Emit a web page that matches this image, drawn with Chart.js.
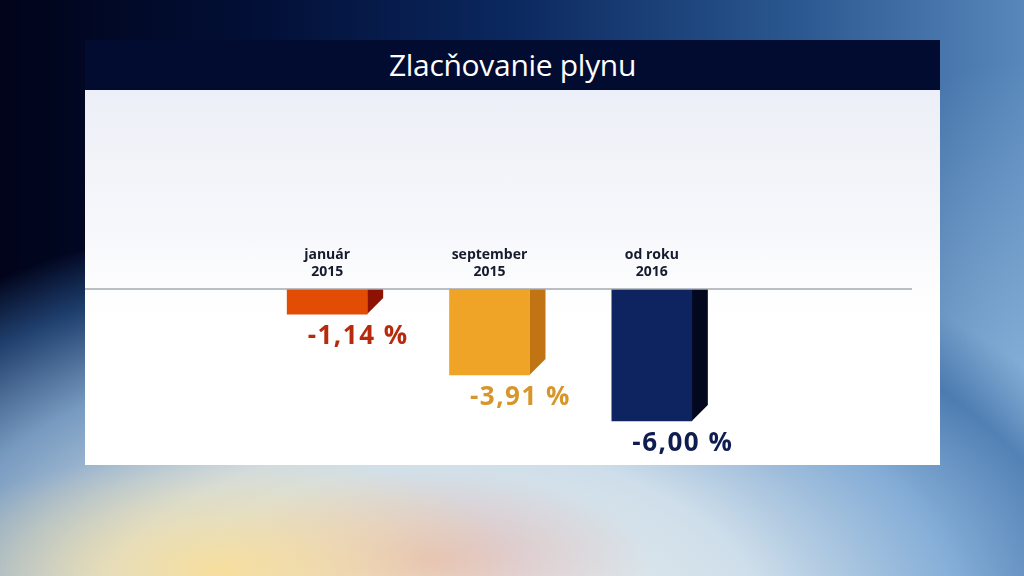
<!DOCTYPE html>
<html>
<head>
<meta charset="utf-8">
<script src="https://cdn.jsdelivr.net/npm/chart.js@4"></script>
<style>
    html, body { margin: 0; padding: 0; }
    body {
        width: 1024px;
        height: 576px;
        overflow: hidden;
        position: relative;
        background:
            radial-gradient(ellipse 300px 120px at 220px 570px, rgba(250, 222, 150, 0.9), rgba(250, 222, 150, 0) 100%),
            radial-gradient(ellipse 220px 90px at 430px 560px, rgba(220, 150, 150, 0.55), rgba(220, 150, 150, 0) 100%),
            radial-gradient(ellipse 760px 440px at 430px 640px, rgba(245, 245, 235, 1) 0%, rgba(215, 230, 240, 0.95) 45%, rgba(140, 180, 220, 0.85) 70%, rgba(50, 100, 160, 0.6) 88%, rgba(30, 70, 130, 0) 100%),
            radial-gradient(ellipse 260px 360px at 1024px 420px, rgba(150, 190, 225, 0.8), rgba(150, 190, 225, 0) 100%),
            linear-gradient(to right, #01041a 0%, #020f36 25%, #0b285f 50%, #2b5890 78%, #5887bb 100%);
        font-family: 'Open Sans', sans-serif;
    }
    #title_bar {
        position: absolute;
        left: 85px;
        top: 40px;
        width: 855px;
        height: 50px;
        background: #020c30;
        color: #ffffff;
        font-family: 'Open Sans', sans-serif;
        font-size: 30px;
        line-height: 50px;
        text-align: center;
        letter-spacing: -0.3px;
    }
    #panel {
        position: absolute;
        left: 85px;
        top: 90px;
        width: 855px;
        height: 375px;
        background: linear-gradient(to bottom, #eceff7 0%, #f6f7fb 35%, #ffffff 60%, #ffffff 100%);
    }
    #chart_wrap {
        position: absolute;
        left: 0;
        top: 0;
        width: 855px;
        height: 375px;
    }
</style>
</head>
<body>
<div id="title_bar">Zlacňovanie plynu</div>
<div id="panel">
    <div id="chart_wrap"><canvas id="gas_chart"></canvas></div>
</div>
<script>
const gas_categories = [['január', '2015'], ['september', '2015'], ['od roku', '2016']];
const gas_values = [-1.14, -3.91, -6.00];
const gas_value_labels = ['-1,14 %', '-3,91 %', '-6,00 %'];
const gas_front_colors = ['#e24c04', '#f0a427', '#0d2461'];
const gas_side_colors = ['#8e1204', '#c07414', '#03081f'];
const gas_label_colors = ['#b72a0c', '#d8962a', '#0e1c50'];

const gas_depth = 16;

// draws the side faces, the zero line and the texts round the bars
const gas_decor_plugin = {
    id: 'gas_decor',
    beforeDatasetsDraw: function (chart) {
        const ctx = chart.ctx;
        const y_scale = chart.scales.y;
        const zero_y = y_scale.getPixelForValue(0);
        const meta = chart.getDatasetMeta(0);

        ctx.save();
        meta.data.forEach(function (bar, idx) {
            const right = bar.x + bar.width / 2;
            const bottom = bar.y;
            ctx.fillStyle = gas_side_colors[idx];
            ctx.beginPath();
            ctx.moveTo(right, zero_y);
            ctx.lineTo(right + gas_depth, zero_y);
            ctx.lineTo(right + gas_depth, Math.max(zero_y, bottom - gas_depth));
            ctx.lineTo(right, bottom);
            ctx.closePath();
            ctx.fill();
        });
        ctx.restore();
    },
    afterDatasetsDraw: function (chart) {
        const ctx = chart.ctx;
        const y_scale = chart.scales.y;
        const zero_y = y_scale.getPixelForValue(0);
        const meta = chart.getDatasetMeta(0);

        ctx.save();
        ctx.strokeStyle = '#a4a8ae';
        ctx.lineWidth = 1.5;
        ctx.beginPath();
        ctx.moveTo(0, zero_y);
        ctx.lineTo(827, zero_y);
        ctx.stroke();

        ctx.textAlign = 'center';
        ctx.textBaseline = 'middle';
        meta.data.forEach(function (bar, idx) {
            const lines = gas_categories[idx];
            ctx.font = 'bold 14px "Open Sans", sans-serif';
            ctx.fillStyle = '#161a2c';
            ctx.fillText(lines[0], bar.x, zero_y - 34);
            ctx.fillText(lines[1], bar.x, zero_y - 17);

            ctx.font = 'bold 26px "Open Sans", sans-serif';
            ctx.letterSpacing = '1.5px';
            ctx.fillStyle = gas_label_colors[idx];
            ctx.fillText(gas_value_labels[idx], bar.x + 31, bar.y + 23);
            ctx.letterSpacing = '0px';
        });
        ctx.restore();
    },
};

new Chart(document.getElementById('gas_chart').getContext('2d'), {
    type: 'bar',
    data: {
        labels: gas_categories.map(function (c) { return c.join(' '); }),
        datasets: [
            {
                data: gas_values,
                backgroundColor: gas_front_colors,
                borderWidth: 0,
                barThickness: 80,
            },
        ],
    },
    options: {
        responsive: true,
        maintainAspectRatio: false,
        animation: false,
        layout: {
            padding: { left: 161, right: 207, top: 199, bottom: 0 },
        },
        plugins: {
            legend: { display: false },
            tooltip: { enabled: false },
        },
        scales: {
            x: {
                display: false,
                offset: true,
            },
            y: {
                display: false,
                min: -8,
                max: 0,
            },
        },
    },
    plugins: [gas_decor_plugin],
});
</script>
</body>
</html>
